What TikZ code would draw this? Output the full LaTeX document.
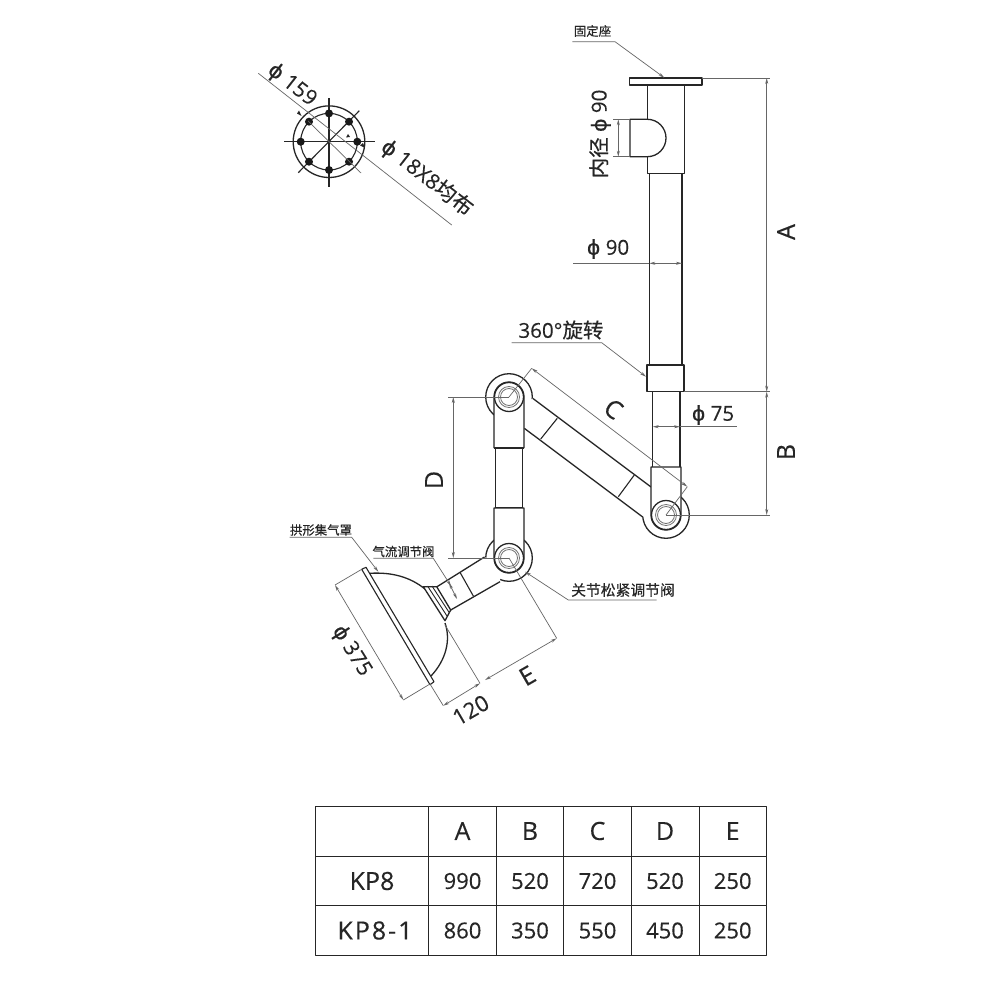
\documentclass[tikz,border=0pt]{standalone}
\usepackage{fontspec}
\setmainfont[FakeBold=0.3]{Open Sans}
\newfontfamily\cjk[FakeBold=0.5]{Noto Sans CJK SC}
\newfontfamily\phifont[FakeBold=0.3]{DejaVu Sans}
\newfontfamily\widefont[FakeBold=0.3,LetterSpace=8]{Open Sans}
\newcommand{\dia}{{\phifont ϕ}}
\usetikzlibrary{arrows.meta}

\tikzset{
    tube/.style={draw=black!85, line width=1.3pt, fill=white, line join=round},
    thin line/.style={draw=black!60, line width=0.7pt},
    dim/.style={thin line, {Stealth[length=6pt,width=3pt]}-{Stealth[length=6pt,width=3pt]}},
    lead/.style={thin line, -{Stealth[length=6pt,width=3pt]}},
    big label/.style={font=\fontsize{25}{25}\selectfont, text=black!85, inner sep=0pt},
    mid label/.style={font=\fontsize{20.5}{21}\selectfont, text=black!85, inner sep=0pt},
    small label/.style={font=\fontsize{12.4}{13}\selectfont\cjk, text=black!85, inner sep=0pt},
    cell/.style={font=\fontsize{22}{22}\selectfont, text=black!85, inner sep=0pt},
    head cell/.style={font=\fontsize{25}{25}\selectfont, text=black!85, inner sep=0pt},
    ring/.style={draw=black!55, line width=0.8pt},
}

\begin{document}
\begin{tikzpicture}[x=1pt, y=-1pt]
    \useasboundingbox[fill=white] (0,0) rectangle (1000,1000);

    \coordinate (jointA) at (509,397);
    \coordinate (jointB) at (666,515);
    \coordinate (jointC) at (509,558);

    % Flange plan
    \coordinate (plan) at (329,141.7);
    \draw[tube, fill=none] (plan) circle (35.8);
    \draw[tube, fill=none, line width=1.1pt] (plan) circle (28.3);
    \draw[tube, line width=1.1pt] (284.3,141.7) -- (375,141.7);
    \draw[tube, line width=1.1pt] (329,98.3) -- (329,186.7);
    \draw[tube, line width=1.1pt] (298.3,172.7) -- (359.3,110.7);
    \foreach \a in {0,45,...,315}
        \fill[black!90] (plan) ++(\a:28.3) circle (4);
    \draw[thin line] (258.3,73.3) -- (451.7,225);
    \draw[thin line] (308,121) -- (361,173);
    \fill[black!85] (301.5,116) -- (297,113.5) -- (299,110.5) -- cycle;
    \fill[black!85] (365,148) -- (363,143) -- (360,145.5) -- cycle;
    \fill[black!85] (348,134) -- (350,137) -- (346,137.5) -- cycle;
    \node[big label, font=\fontsize{21}{21}\selectfont, rotate=-38] (p159) at (292,85) {\dia\ 159};
    \node[big label, font=\fontsize{21}{21}\selectfont, rotate=-38] (p18) at (427,178) {\dia\ 18X8{\cjk 均布}};

    % Column
    \draw[tube] (649.3,173) rectangle (682,366);
    \draw[tube] (647.3,85) rectangle (684.3,173.7);
    \draw[tube] (647.3,119.3) -- (630,119.3) -- (630,156.7) -- (647.3,156.7)
        .. controls (658,156.7) and (666,148) .. (666,138)
        .. controls (666,128) and (658,119.3) .. (647.3,119.3);
    \draw[tube] (629.7,78) rectangle (702,85);
    \draw[tube] (652.7,391) -- (652.7,467);
    \draw[tube] (680,391) -- (680,467);

    % Joints
    \foreach \j in {jointA,jointB,jointC}
        \draw[tube] (\j) circle (23.3);

    % Arms
    \fill[white] (515,410) -- (532.7,398.3) -- (651,487) -- (660,515) -- (643,517.2) -- (524.3,428.3) -- cycle;
    \draw[tube] (532.7,398.3) -- (651,487);
    \draw[tube] (524.3,428.3) -- (643,517.2);
    \draw[tube, line width=1.1pt] (557.3,418.3) -- (540.7,439);
    \draw[tube, line width=1.1pt] (634.3,475) -- (618.3,496.7);
    \fill[white] (500,565) -- (484.5,557) -- (437,586.7) -- (450.7,610) -- (500,581.7) -- cycle;
    \draw[tube] (484.5,557) -- (437,586.7);
    \draw[tube] (500,581.7) -- (450.7,610);
    \draw[tube, line width=1.1pt] (460,572.3) -- (473.3,596);

    % Forks
    \draw[tube] (494,448) -- (494,397) arc[start angle=180, end angle=360, radius=15] -- (524,448);
    \draw[tube] (495.7,448) rectangle (522.3,508);
    \draw[tube] (494,448) -- (524,448);
    \draw[tube] (494,508) -- (494,558) arc[start angle=180, end angle=0, radius=15] -- (524,508) -- cycle;
    \draw[tube] (651,467) -- (651,515) arc[start angle=180, end angle=0, radius=15] -- (681,467) -- cycle;
    \draw[tube] (647,365) rectangle (684,391.7);

    \foreach \j in {jointA,jointB,jointC} {
        \draw[tube] (\j) circle (14.5);
        \draw[ring] (\j) circle (10.5);
        \draw[ring] (\j) circle (8.5);
    }

    % Hood
    \draw[tube, fill=none] (370,573.3) .. controls (392,572) and (410,577) .. (425,589);
    \draw[tube, fill=none] (445,623) .. controls (451,640) and (446,660) .. (431,676);
    \draw[tube] (423.3,586.7) -- (436.7,586.7) -- (450.7,610) -- (445,620.7) -- cycle;
    \draw[tube, line width=0.9pt] (427.5,586) -- (447,616);
    \draw[tube, line width=0.9pt] (432,586) -- (449.5,613);
    \draw[tube, line width=1.1pt] (361.7,569.3) -- (366,567.3) -- (434,681.7) -- (430,684.7) -- cycle;

    % Dimension A and B
    \coordinate (dimA) at (766.7,78);
    \coordinate (dimAB) at (766.7,391.7);
    \coordinate (dimB) at (766.7,515);
    \draw[thin line] (702,78) -- (770,78);
    \draw[thin line] (684,391.7) -- (770,391.7);
    \draw[thin line] (jointB) -- (770,515);
    \draw[dim] (dimA) -- (dimAB);
    \draw[dim] (dimAB) -- (dimB);
    \node[big label, rotate=90] (labA) at (786,232) {A};
    \node[big label, rotate=90] (labB) at (786,452) {B};

    % Dimension C
    \coordinate (dimC1) at (531.7,368.3);
    \coordinate (dimC2) at (687.3,486.7);
    \draw[thin line] (jointA) -- (dimC1);
    \draw[thin line] (jointB) -- (dimC2);
    \draw[dim] (dimC1) -- (dimC2);
    \node[big label, rotate=-36] (labC) at (613.5,409) {C};

    % Dimension D
    \coordinate (dimD1) at (453.3,397);
    \coordinate (dimD2) at (453.3,558);
    \draw[thin line] (jointA) -- (448,397);
    \draw[thin line] (jointC) -- (448,558);
    \draw[dim] (dimD1) -- (dimD2);
    \node[big label, rotate=90] (labD) at (434,480) {D};

    % Dimension E and 120
    \coordinate (dimE1) at (556.7,638.3);
    \coordinate (dimE2) at (485,680);
    \coordinate (dimF1) at (480,683.3);
    \coordinate (dimF2) at (443.3,705.7);
    \draw[thin line] (jointC) -- (dimE1);
    \draw[dim] (dimE1) -- (dimE2);
    \draw[thin line] (445,625) -- (dimF1);
    \draw[thin line] (430,684) -- (dimF2);
    \draw[dim] (dimF1) -- (dimF2);
    \node[big label, rotate=30] (labE) at (527.3,675.7) {E};
    \node[mid label, font=\fontsize{22}{22}\selectfont, rotate=30] (lab120) at (470.7,710) {120};

    % Dimension hood
    \coordinate (dimH1) at (335,585);
    \coordinate (dimH2) at (403.3,700);
    \draw[thin line] (361.7,569.3) -- (dimH1);
    \draw[thin line] (430,684) -- (dimH2);
    \draw[dim] (dimH1) -- (dimH2);
    \node[mid label, font=\fontsize{21}{21}\selectfont, rotate=-58] (lab375) at (351.7,651) {\dia\ 375};

    % Pipe sizes
    \coordinate (dimP1) at (649.3,263.3);
    \coordinate (dimP2) at (682,263.3);
    \draw[thin line] (573.3,263.3) -- (dimP1);
    \draw[dim] (dimP1) -- (dimP2);
    \node[mid label] (lab90) at (608,249) {\dia\ 90};
    \coordinate (dimQ1) at (652.7,426.7);
    \coordinate (dimQ2) at (680,426.7);
    \draw[thin line] (dimQ2) -- (736.7,426.7);
    \draw[dim] (dimQ1) -- (dimQ2);
    \node[mid label] (lab75) at (713,415) {\dia\ 75};
    \coordinate (dimR1) at (618.3,119.3);
    \coordinate (dimR2) at (618.3,156.7);
    \draw[thin line] (613,119.3) -- (630,119.3);
    \draw[thin line] (613,156.7) -- (630,156.7);
    \draw[dim] (dimR1) -- (dimR2);
    \node[mid label, rotate=90] (labin) at (600,134) {{\cjk 内径} \dia\ 90};

    % Leaders
    \node[small label] (fix) at (592.5,31) {固定座};
    \draw[lead] (572.3,41.7) -- (615,41.7) -- (664.3,77.7);
    \node[mid label] (rot) at (561,330) {360°{\cjk 旋转}};
    \draw[lead] (511.7,342.7) -- (601.7,342.7) -- (646,376.7);
    \node[small label] (hood) at (321,530) {拱形集气罩};
    \draw[lead] (289.7,537.3) -- (351.7,537.3) -- (378.3,571.7);
    \node[small label] (air) at (403.5,551.5) {气流调节阀};
    \draw[lead] (373.3,558.3) -- (433.3,558.3) -- (451,586);
    \draw[dim] (449,583) -- (457,599);
    \node[small label, font=\fontsize{14.8}{15}\selectfont\cjk] (loose) at (623,590) {关节松紧调节阀};
    \draw[lead] (656.7,600) -- (568.3,600) -- (525,571.7);

    % Table
    \draw[tube, fill=none, line width=1pt] (315.3,806) rectangle (766.3,955);
    \foreach \x in {428.7,496.3,563.7,631.3,699}
        \draw[tube, line width=1pt] (\x,806) -- (\x,955);
    \foreach \y in {856,905.7}
        \draw[tube, line width=1pt] (315.3,\y) -- (766.3,\y);
    \foreach \t/\x in {A/462.5,B/530,C/597.5,D/665,E/732.7}
        \node[head cell] (head\t) at (\x,831) {\t};
    \node[head cell] (row1) at (372,881) {KP8};
    \node[head cell] (row2) at (375,930.5) {\widefont KP8-1};
    \foreach \t/\x/\n in {990/462.5/a,520/530/b,720/597.5/c,520/665/d,250/732.7/e}
        \node[cell] (one\n) at (\x,881) {\t};
    \foreach \t/\x/\n in {860/462.5/a,350/530/b,550/597.5/c,450/665/d,250/732.7/e}
        \node[cell] (two\n) at (\x,930.5) {\t};
\end{tikzpicture}
\end{document}
